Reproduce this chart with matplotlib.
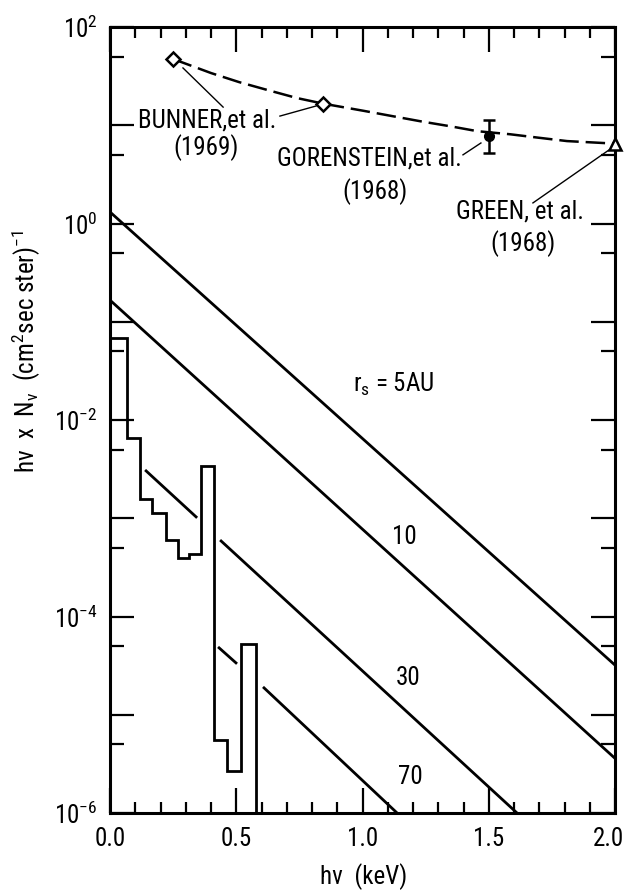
import math
import matplotlib
matplotlib.use("Agg")
import matplotlib.pyplot as plt
import matplotlib.transforms as mtransforms
from matplotlib import font_manager as fm
from matplotlib.ticker import FixedLocator, FuncFormatter, NullFormatter

# ---------------- data ----------------
# Measured diffuse X-ray background
bunner_x = [0.25, 0.844]
bunner_y = [47.2, 16.4]
gorenstein_x = [1.5]
gorenstein_y = [7.7]
gorenstein_lo = [5.2]
gorenstein_hi = [11.3]
green_x = [2.0]
green_y = [6.5]

# Dashed curve drawn through the measurements
curve_x = [0.25, 0.40, 0.511, 0.630, 0.741, 0.844, 1.006, 1.117, 1.236,
           1.354, 1.455, 1.584, 1.691, 1.810, 2.0]
curve_y = [47.2, 34.0, 27.5, 22.6, 18.9, 16.6, 14.0, 12.4, 10.9,
           9.7, 8.7, 8.1, 7.5, 6.9, 6.5]

# Model spectra for different r_s (straight lines in log space, segments)
line5_x = [[0.0, 2.0]]
line5_y = [[1.31, 3.2e-5]]
line10_x = [[0.0, 2.0]]
line10_y = [[0.166, 3.6e-6]]
line30_x = [[0.139, 0.345], [0.436, 1.612]]
line30_y = [[3.1e-3, 1.01e-3], [6.0e-4, 1.0e-6]]
line70_x = [[0.428, 0.503], [0.606, 1.137]]
line70_y = [[4.9e-5, 3.3e-5], [1.92e-5, 1.0e-6]]
line_labels = ["r$_{s}$ = 5AU", "10", "30", "70"]

# Histogram (step) spectrum
hist_edges = [0.0, 0.067, 0.119, 0.166, 0.222, 0.269, 0.313, 0.360,
              0.412, 0.463, 0.519, 0.578]
hist_vals = [6.8e-2, 6.6e-3, 1.57e-3, 1.13e-3, 6.0e-4, 3.9e-4, 4.3e-4,
             3.4e-3, 5.5e-6, 2.7e-6, 5.25e-5]

x_ticklabels = ["0.0", "0.5", "1.0", "1.5", "2.0"]
x_major = [0.0, 0.5, 1.0, 1.5, 2.0]
y_decades = [-6, -5, -4, -3, -2, -1, 0, 1, 2]

# ---------------- fonts ----------------
names = {f.name for f in fm.fontManager.ttflist}
FONT = "DejaVu Sans"
for cand in ["Liberation Sans Narrow", "Roboto Condensed", "Open Sans Condensed",
             "DejaVu Sans Condensed", "Liberation Sans"]:
    if cand in names:
        FONT = cand
        break
plt.rcParams["font.family"] = [FONT, "DejaVu Sans"]
plt.rcParams["mathtext.fontset"] = "custom"
plt.rcParams["mathtext.rm"] = FONT
plt.rcParams["mathtext.it"] = FONT
plt.rcParams["mathtext.bf"] = FONT
plt.rcParams["mathtext.sf"] = FONT
plt.rcParams["mathtext.default"] = "regular"
plt.rcParams["lines.scale_dashes"] = False

FS = 18

fig = plt.figure(figsize=(6.27, 8.92), dpi=100)
ax = fig.add_axes([110 / 627, 79 / 892, 505 / 627, 786 / 892])
ax.set_yscale("log")
ax.set_xlim(0, 2.0)
ax.set_ylim(1e-6, 1e2)

LW = 2.0
# model lines
for xs, ys in [(line5_x, line5_y), (line10_x, line10_y),
               (line30_x, line30_y), (line70_x, line70_y)]:
    for sx, sy in zip(xs, ys):
        ax.plot(sx, sy, color="black", lw=LW, solid_capstyle="butt")

# histogram
ax.stairs(hist_vals, hist_edges, baseline=1e-9, fill=False, color="black", lw=LW)

# dashed curve
ax.plot(curve_x, curve_y, color="black", lw=1.8, dashes=(14, 5))

# points
ax.plot(bunner_x, bunner_y, ls="none", marker="D", ms=7, mfc="white",
        mec="black", mew=1.8, zorder=5)
ax.errorbar(gorenstein_x, gorenstein_y,
            yerr=[[gorenstein_y[0] - gorenstein_lo[0]], [gorenstein_hi[0] - gorenstein_y[0]]],
            fmt="o", ms=7, color="black", capsize=4, elinewidth=1.8, capthick=1.8, zorder=5)
ax.plot(green_x, green_y, ls="none", marker="^", ms=9, mfc="white",
        mec="black", mew=1.8, zorder=6, clip_on=False)

# leader lines
for (x0, y0), (x1, y1) in [((0.289, 38.3), (0.448, 15.3)),
                           ((0.673, 12.4), (0.816, 15.7)),
                           ((1.398, 5.0), (1.469, 6.6)),
                           ((1.675, 1.62), (1.976, 5.6))]:
    ax.plot([x0, x1], [y0, y1], color="black", lw=1.0)

# annotation texts
ax.text(0.384, 11.3, "BUNNER,et al.", fontsize=FS, ha="center", va="center")
ax.text(0.380, 5.87, "(1969)", fontsize=FS, ha="center", va="center")
ax.text(1.026, 4.54, "GORENSTEIN,et al.", fontsize=FS, ha="center", va="center")
ax.text(1.050, 2.09, "(1968)", fontsize=FS, ha="center", va="center")
ax.text(1.624, 1.31, "GREEN, et al.", fontsize=FS, ha="center", va="center")
ax.text(1.636, 0.618, "(1968)", fontsize=FS, ha="center", va="center")
ax.text(1.125, 0.0232, line_labels[0], fontsize=FS, ha="center", va="center")
ax.text(1.164, 6.44e-4, line_labels[1], fontsize=FS, ha="center", va="center")
ax.text(1.180, 2.37e-5, line_labels[2], fontsize=FS, ha="center", va="center")
ax.text(1.188, 2.32e-6, line_labels[3], fontsize=FS, ha="center", va="center")

# ticks
ax.xaxis.set_major_locator(FixedLocator(x_major))
ax.xaxis.set_minor_locator(FixedLocator([i / 10 for i in range(21)]))
ax.set_xticklabels(x_ticklabels)
ax.yaxis.set_major_locator(FixedLocator([10.0 ** d for d in y_decades]))
ax.yaxis.set_minor_locator(FixedLocator([5 * 10.0 ** d for d in y_decades[:-1]]))


def yfmt(v, p):
    e = round(math.log10(v))
    return r"$10^{%d}$" % e if e % 2 == 0 else ""


ax.yaxis.set_major_formatter(FuncFormatter(yfmt))
ax.yaxis.set_minor_formatter(NullFormatter())

ax.tick_params(axis="both", which="both", direction="in", top=True, right=True,
               colors="black", labelsize=FS)
ax.tick_params(axis="x", which="major", length=18, width=1.6, pad=10)
ax.tick_params(axis="x", which="minor", length=8, width=1.6)
ax.tick_params(axis="y", which="major", length=17, width=1.6, pad=9)
ax.tick_params(axis="y", which="minor", length=10, width=1.6)

for s in ax.spines.values():
    s.set_linewidth(2.2)

# keep the last x tick label inside the canvas
last = ax.get_xticklabels()[-1]
last.set_transform(last.get_transform() +
                   mtransforms.ScaledTranslation(-6 / 100, 0, fig.dpi_scale_trans))

ax.set_xlabel("hν  (keV)", fontsize=FS, va="center")
ax.xaxis.set_label_coords(0.503, -0.0814)
ax.set_ylabel("hν  x  N$_{ν}$  (cm$^{2}$sec ster)$^{-1}$", fontsize=FS, va="center")
ax.yaxis.set_label_coords(-0.166, 0.5865)

fig.savefig("out.png", dpi=100)
